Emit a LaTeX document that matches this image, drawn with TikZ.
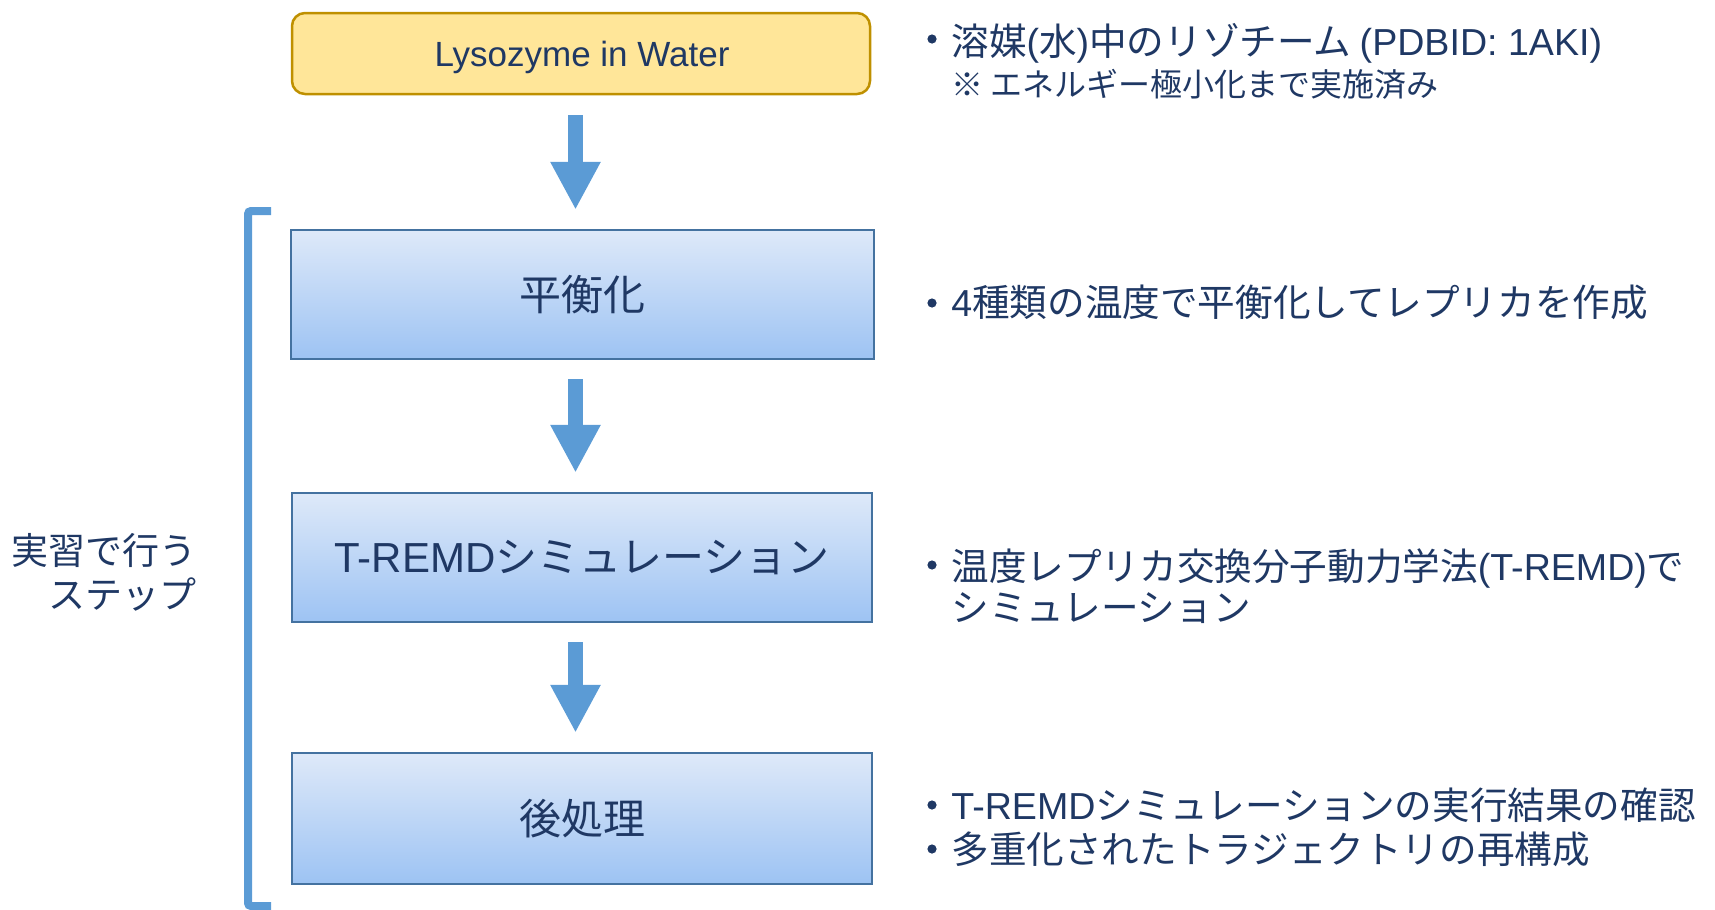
\documentclass[tikz,border=0pt]{standalone}
\usepackage{fontspec}
\setmainfont{Noto Sans CJK JP}
\newfontfamily\lt{Liberation Sans}
\usetikzlibrary{arrows.meta,calc}
\definecolor{navy}{RGB}{31,56,100}
\definecolor{yfill}{RGB}{255,230,153}
\definecolor{ydraw}{RGB}{191,144,0}
\definecolor{btop}{RGB}{222,233,249}
\definecolor{bbot}{RGB}{157,195,243}
\definecolor{bdraw}{RGB}{68,114,160}
\definecolor{acol}{RGB}{91,155,213}
\begin{document}
\begin{tikzpicture}[x=0.5pt,y=-0.5pt,
  startbox/.style={draw=ydraw, fill=yfill, line width=1.25pt, rounded corners=6.5pt,
    minimum width=289pt, minimum height=40.5pt, inner sep=0pt, text=navy,
    font=\fontsize{17.5}{20}\selectfont},
  stepbox/.style={draw=bdraw, top color=btop, bottom color=bbot, line width=1.25pt,
    minimum width=290pt, minimum height=64.5pt, inner sep=0pt, text=navy,
    font=\fontsize{21}{24}\selectfont},
  flowarrow/.style={draw=acol, line width=7.8pt, -{Triangle[width=23.5pt,length=24pt]}},
  bracketline/.style={draw=acol, line width=4pt, rounded corners=1.5pt},
  rtext/.style={anchor=base west, inner sep=0pt, text=navy, font=\fontsize{18.8}{22}\selectfont},
  rsmall/.style={anchor=base west, inner sep=0pt, text=navy, font=\fontsize{16}{19}\selectfont},
  ltext/.style={anchor=east, align=right, inner sep=0pt, text=navy, font=\fontsize{18.5}{22}\selectfont},
  dot/.style={circle, fill=navy, inner sep=0pt, minimum size=4.6pt},
  labeltext/.style={inner sep=0pt, text=navy, font=\fontsize{17.5}{20}\selectfont}]
\useasboundingbox (0,0) rectangle (1715,910);

\coordinate (ax) at (575.5,0);

\node[startbox] (start) at (581,53.5) {};
\node[labeltext, anchor=base] (startlabel) at (582,66) {\lt Lysozyme in Water};
\node[stepbox, minimum width=291.5pt] (b1) at (582.5,294.5) {平衡化};
\node[stepbox] (b2) at (582,557.5) {{\lt T-REMD}シミュレーション};
\node[stepbox, minimum height=65.5pt] (b3) at (582,818.5) {後処理};

\draw[flowarrow] ($(start.south -| ax)+(0,20)$) -- ($(b1.north -| ax)+(0,-19)$);
\draw[flowarrow] ($(b1.south -| ax)+(0,19)$) -- ($(b2.north -| ax)+(0,-19)$);
\draw[flowarrow] ($(b2.south -| ax)+(0,19)$) -- ($(b3.north -| ax)+(0,-19)$);

\draw[bracketline] (271,211) -- (248,211) -- (248,906) -- (271,906);

\node[ltext] (lab) at (197,572) {実習で行う\\ステップ};

\node[dot] (d1) at (932,39) {};
\node[rtext] (t1a) at (951,55) {溶媒{\lt(}水{\lt)}中のリゾチーム {\lt (PDBID: 1AKI)}};
\node[rsmall] (t1b) at (951,96) {※ エネルギー極小化まで実施済み};
\node[dot] (d2) at (932,303) {};
\node[rtext] (t2) at (951,316) {{\lt 4}種類の温度で平衡化してレプリカを作成};
\node[dot] (d3) at (932,565) {};
\node[rtext] (t3a) at (951,580) {温度レプリカ交換分子動力学法{\lt(T-REMD)}で};
\node[rtext] (t3b) at (951,621) {シミュレーション};
\node[dot] (d4) at (932,805) {};
\node[rtext] (t4a) at (951,819) {{\lt T-REMD}シミュレーションの実行結果の確認};
\node[dot] (d5) at (932,849) {};
\node[rtext] (t4b) at (951,863) {多重化されたトラジェクトリの再構成};
\end{tikzpicture}
\end{document}
